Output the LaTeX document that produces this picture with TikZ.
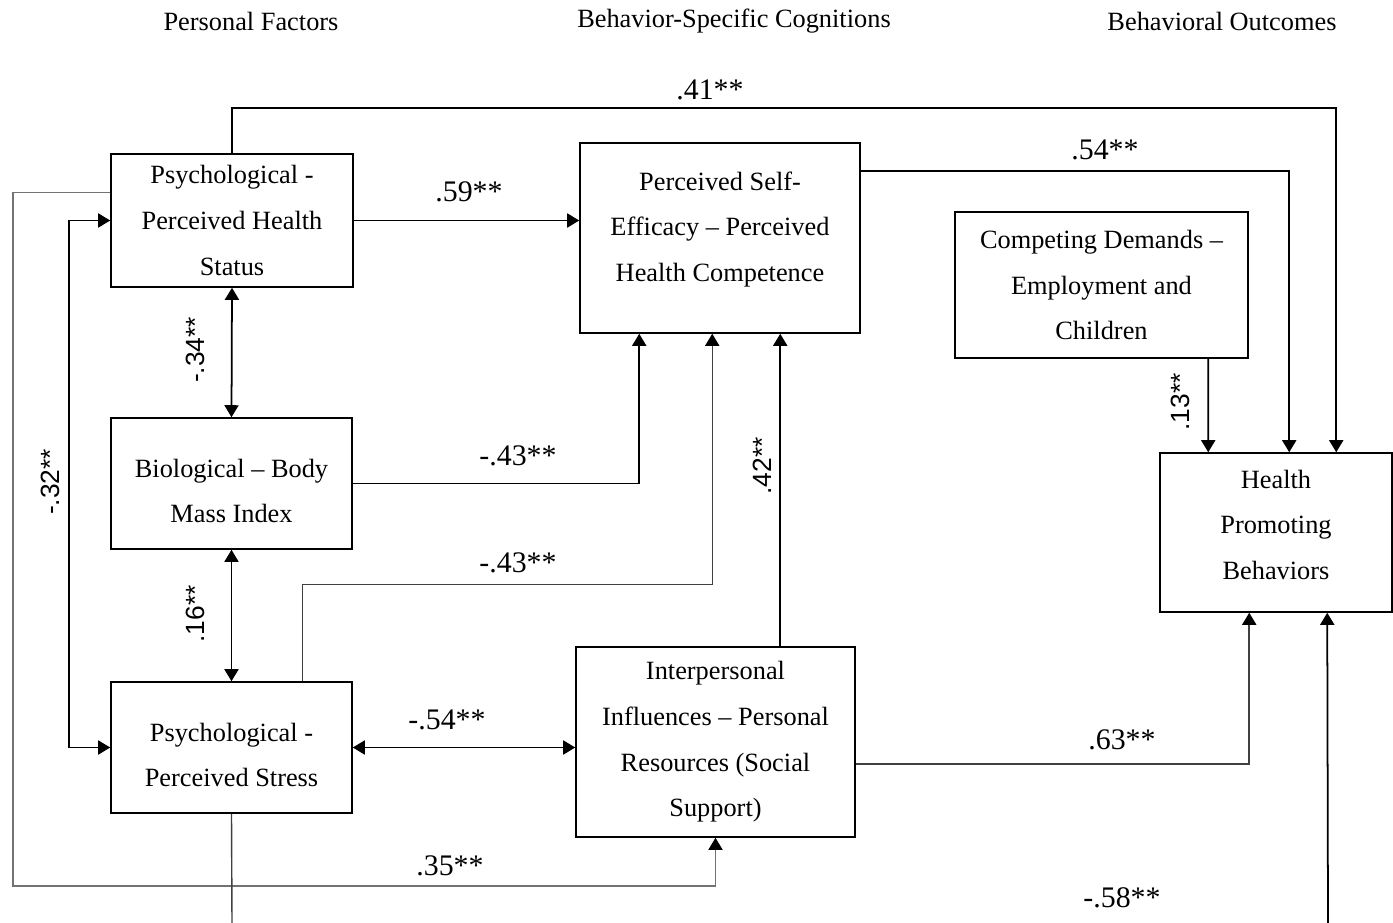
\documentclass[tikz,border=0pt]{standalone}
\usepackage{fontspec}
\setmainfont{Liberation Serif}
\setsansfont{Liberation Sans}
\usetikzlibrary{arrows.meta,positioning,calc}

\begin{document}
\begin{tikzpicture}[x=0.02cm,y=-0.02cm,
>={Triangle[length=2.4mm,width=2.8mm,color=black]},line width=1pt,
font=\fontsize{15}{26}\selectfont]

\tikzstyle{factor}=[draw,line width=0.9pt,align=center,inner sep=0pt]
\tikzstyle{coef}=[font=\fontsize{17}{19}\selectfont,inner sep=1pt]
\tikzstyle{vcoef}=[rotate=90,font=\sffamily\fontsize{15}{17}\selectfont,inner sep=1pt]
\tikzstyle{faint}=[draw=black!55,line width=0.8pt]

\useasboundingbox (0,0) rectangle (1393,923);

%column headings
\node (hpers) at (251,21) {Personal Factors};
\node (hcog) at (734,21) {Behavior-Specific Cognitions};
\node (hout) at (1222,21) {Behavioral Outcomes};

%boxes
\node[factor,minimum width=4.84cm,minimum height=2.66cm] (phs) at (232,220.5)
{Psychological -\\Perceived Health\\Status};
\node[factor,minimum width=4.82cm,minimum height=2.62cm] (bmi) at (231.5,483.5)
{\mbox{}\\[-0.25cm]Biological -- Body\\Mass Index};
\node[factor,minimum width=4.82cm,minimum height=2.62cm] (stress) at (231.5,747.5)
{\mbox{}\\[-0.25cm]Psychological -\\Perceived Stress};
\node[factor,minimum width=5.6cm,minimum height=3.8cm] (se) at (720,238)
{Perceived Self-\\Efficacy -- Perceived\\Health Competence\\[-0.45cm]\mbox{}};
\node[factor,minimum width=5.86cm,minimum height=2.92cm] (cd) at (1101.5,285)
{Competing Demands --\\Employment and\\Children};
\node[factor,minimum width=4.64cm,minimum height=3.18cm] (hpb) at (1276,532.5)
{Health\\Promoting\\Behaviors\\[-0.6cm]\mbox{}};
\node[factor,minimum width=5.58cm,minimum height=3.8cm] (ip) at (715.5,742)
{Interpersonal\\Influences -- Personal\\Resources (Social\\Support)};

%loose ends at the lower edge
\coordinate (cutstress) at (232,923);
\coordinate (cuthpb) at (1328,923);

%paths
\draw[->] (phs.north) -- ++(0,-45) -| ($(hpb.north west)+(177,0)$);
\draw[->] ($(se.north east)+(0,29)$) -| ($(hpb.north west)+(130,0)$);
\draw[->] ($(cd.south west)+(254,0)$) -- ($(hpb.north west)+(49,0)$);
\draw[->] (phs.east) -- (se.west |- phs.east);
\draw[<->] (phs.south) -- (bmi.north);
\draw[<->] (bmi.south) -- (stress.north);
\draw[<->] (phs.west) -- ++(-41,0) |- (stress.west);
\draw[->,faint] ($(phs.north west)+(0,39)$) -| (13,886) -| (ip.south);
\draw[->] (bmi.east) -| ($(se.south west)+(60,0)$);
\draw[->,draw=black!75,line width=0.8pt] ($(stress.north west)+(192,0)$) |- ($(se.south west)+(133,251)$)
-- ($(se.south west)+(133,0)$);
\draw[->] ($(ip.north west)+(205,0)$) -- ($(se.south west)+(201,0)$);
\draw[<->] (stress.east) -- (stress.east -| ip.west);
\draw[->,draw=black!75] ($(ip.east)+(0,22)$) -| ($(hpb.south west)+(90,0)$);
\draw[->] (cuthpb) -- ($(hpb.south west)+(168,0)$);
\draw[draw=black!75,line width=0.8pt] (stress.south) -- (cutstress);

%coefficients
\node[coef] (c41) at (710,90) {.41**};
\node[coef] (c54) at (1105,150) {.54**};
\node[coef] (c59) at (469,192) {.59**};
\node[coef] (c43a) at (518,456) {-.43**};
\node[coef] (c43b) at (518,563) {-.43**};
\node[coef] (c54b) at (447,720) {-.54**};
\node[coef] (c63) at (1122,740) {.63**};
\node[coef] (c35) at (450,866) {.35**};
\node[coef] (c58) at (1122,898) {-.58**};
\node[vcoef] (c34) at (195,350) {-.34**};
\node[vcoef] (c16) at (195,614) {.16**};
\node[vcoef] (c32) at (50,482) {-.32**};
\node[vcoef] (c42) at (762,466) {.42**};
\node[vcoef] (c13) at (1180,402) {.13**};

\end{tikzpicture}
\end{document}
